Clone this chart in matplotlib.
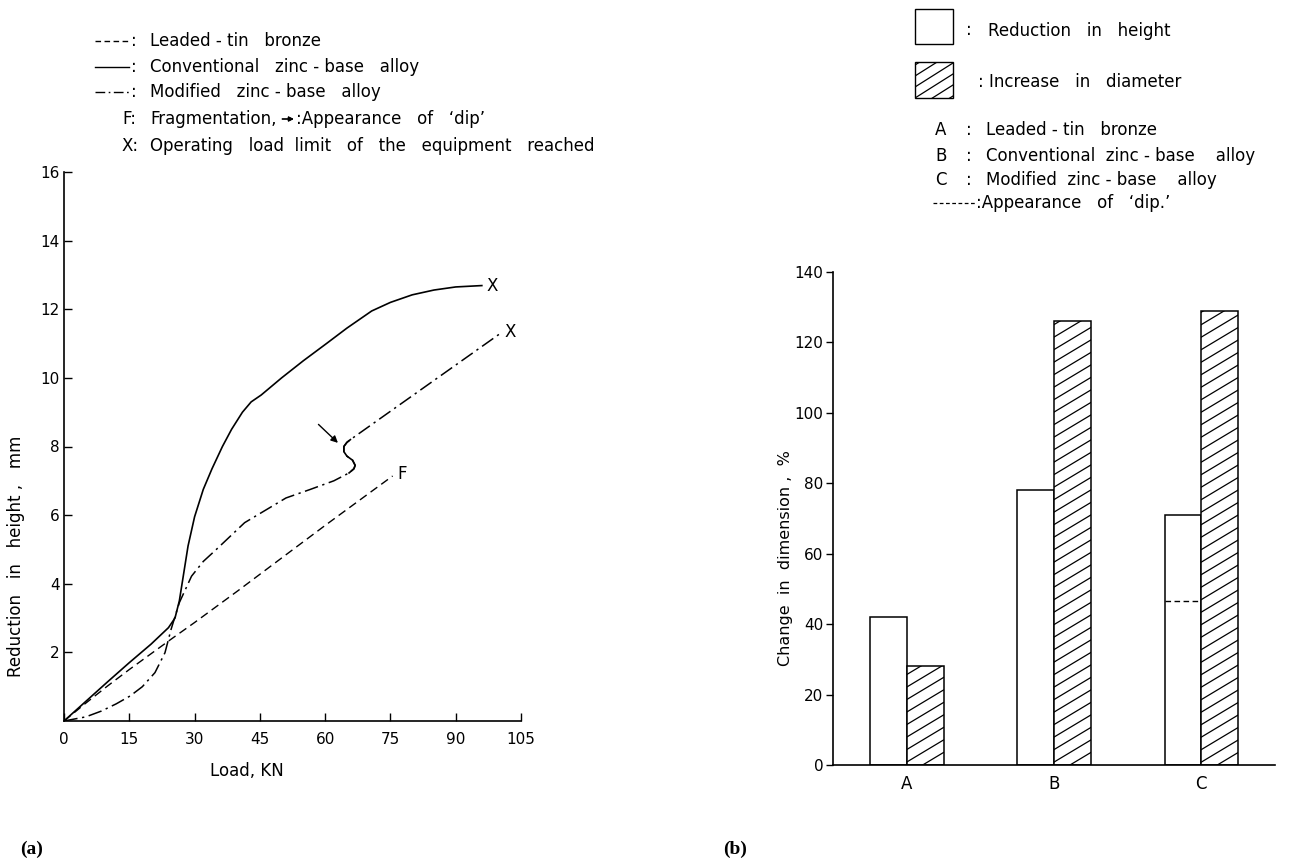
import numpy as np
import matplotlib.pyplot as plt
from matplotlib.patches import Rectangle
from matplotlib.lines import Line2D

plt.rcParams['font.family'] = ['DejaVu Sans']
plt.rcParams['font.size'] = 11

# (a) reduction in height vs load
load_bronze = [0, 5, 10, 15, 20, 25, 30, 40, 50, 60, 70, 75.5]
red_bronze = [0, 0.52, 1.02, 1.5, 1.96, 2.42, 2.87, 3.8, 4.75, 5.7, 6.63, 7.14]

load_conv = [0, 5, 10, 15, 20, 24, 25.5, 26.5, 27.5, 28.5, 30, 32, 34, 36.4, 38.5,
             41, 43, 45.3, 50, 55, 60.3, 65, 70.7, 75, 80, 85, 90, 96]
red_conv = [0, 0.57, 1.14, 1.7, 2.24, 2.72, 3.0, 3.5, 4.3, 5.1, 5.95, 6.75, 7.35, 8.0, 8.5,
            9.0, 9.3, 9.5, 10.0, 10.5, 11.0, 11.45, 11.95, 12.2, 12.42, 12.56, 12.65, 12.69]

load_mod = [0, 5, 8.6, 12, 15.2, 18, 20.9, 23.2, 24.6, 26.5, 29.3, 32, 35, 41.5, 51, 56.6,
            62, 65.5, 66.6, 66.9, 66.3, 65.0, 64.3, 64.3, 65.0, 65.8, 100.3]
red_mod = [0, 0.12, 0.29, 0.5, 0.73, 1.0, 1.41, 1.99, 2.67, 3.45, 4.22, 4.65, 5.0, 5.78, 6.5, 6.75,
           7.0, 7.23, 7.35, 7.45, 7.6, 7.72, 7.85, 8.0, 8.12, 8.2, 11.3]
dip_start, dip_end = 17, 26   # index range of the 'dip' in the modified alloy curve

# (b) change in dimension
alloys = ['A', 'B', 'C']
reduction_pct = [42, 78, 71]
increase_pct = [28, 126, 129]
dip_pct = [np.nan, np.nan, 46.5]

W, H = 1293, 861
fig = plt.figure(figsize=(W / 100, H / 100), dpi=100)
renderer = fig.canvas.get_renderer()


def fx(px):
    return px / W


def fy(py):
    return 1 - py / H


LEG = 12

# ---------- panel (a) ----------
ax1 = fig.add_axes([fx(64), fy(721), (521 - 64) / W, (721 - 172) / H])
ax1.set_xlim(0, 105)
ax1.set_ylim(0, 16)
ax1.plot(load_bronze, red_bronze, color='k', lw=1.0, dashes=(6, 3.5))
ax1.plot(load_conv, red_conv, color='k', lw=1.2)
ax1.plot(load_mod, red_mod, color='k', lw=1.1, dashes=(9, 3, 1.5, 3))
ax1.plot(load_mod[dip_start:dip_end], red_mod[dip_start:dip_end], color='k', lw=1.2)

ax1.text(load_conv[-1] + 1, red_conv[-1], 'X', ha='left', va='center', fontsize=12)
ax1.text(load_mod[-1] + 1, red_mod[-1] + 0.05, 'X', ha='left', va='center', fontsize=12)
ax1.text(load_bronze[-1] + 1, red_bronze[-1] + 0.05, 'F', ha='left', va='center', fontsize=12)
ax1.annotate('', xy=(63.4, 8.05), xytext=(58, 8.7),
             arrowprops=dict(arrowstyle='-|>', color='k', lw=1.0, mutation_scale=10))

ax1.set_xticks(np.arange(0, 106, 15))
ax1.set_yticks(np.arange(2, 17, 2))
ax1.tick_params(axis='x', direction='in', length=6, width=1, pad=8)
ax1.tick_params(axis='y', direction='in', length=6, width=1, pad=3)
for s in ['top', 'right']:
    ax1.spines[s].set_visible(False)
for s in ['left', 'bottom']:
    ax1.spines[s].set_linewidth(1.2)
ax1.set_xlabel('Load, KN', fontsize=12)
ax1.xaxis.set_label_coords(0.4, -0.075)
ax1.set_ylabel('Reduction   in   height ,   mm', fontsize=12)
ax1.yaxis.set_label_coords(-0.085, 0.3)

# legend of (a)
rows = [41, 67, 92, 119, 146]
styles = [dict(dashes=(4, 2.5)), dict(), dict(dashes=(7, 2.5, 1.2, 2.5))]
names = ['Leaded - tin   bronze', 'Conventional   zinc - base   alloy',
         'Modified   zinc - base   alloy']
for r, st, nm in zip(rows[:3], styles, names):
    fig.add_artist(Line2D([fx(95), fx(129)], [fy(r), fy(r)], color='k', lw=1.0,
                          transform=fig.transFigure, **st))
    fig.text(fx(131), fy(r), ':', ha='left', va='center', fontsize=LEG)
    fig.text(fx(150), fy(r), nm, ha='left', va='center', fontsize=LEG)
fig.text(fx(122), fy(rows[3]), 'F:', ha='left', va='center', fontsize=LEG)
t_frag = fig.text(fx(150), fy(rows[3]), 'Fragmentation,', ha='left', va='center',
                  fontsize=LEG)
bb = t_frag.get_window_extent(renderer)
fig.add_artist(plt.annotate('', xy=((bb.x1 + 20) / W, fy(rows[3])),
                            xytext=((bb.x1 + 3) / W, fy(rows[3])),
                            xycoords='figure fraction',
                            arrowprops=dict(arrowstyle='-|>', color='k', lw=0.9,
                                            mutation_scale=7)))
fig.text((bb.x1 + 20) / W, fy(rows[3]), ':Appearance   of   \u2018dip\u2019',
         ha='left', va='center', fontsize=LEG)
fig.text(fx(122), fy(rows[4]), 'X:', ha='left', va='center', fontsize=LEG)
fig.text(fx(150), fy(rows[4]), 'Operating   load  limit   of   the   equipment   reached',
         ha='left', va='center', fontsize=LEG)

# ---------- panel (b) ----------
ax2 = fig.add_axes([fx(833), fy(765), (1275 - 833) / W, (765 - 272) / H])
ax2.set_xlim(-0.5, 2.5)
ax2.set_ylim(0, 140)
x = np.arange(len(alloys))
bw = 0.25
ax2.bar(x - bw / 2, reduction_pct, width=bw, facecolor='white', edgecolor='k', lw=1.1)
hb = ax2.bar(x + bw / 2, increase_pct, width=bw, facecolor='white', edgecolor='k', lw=1.1)


def add_hatch(ax, patch, spacing_px=12.5, slope=0.6):
    x0, y0 = patch.get_x(), patch.get_y()
    w, h = patch.get_width(), patch.get_height()
    p0 = ax.transData.transform((0, 0))
    p1 = ax.transData.transform((1, 1))
    sx, sy = p1[0] - p0[0], p1[1] - p0[1]
    rise = slope * w * sx / sy
    step = spacing_px / sy
    for yy in np.arange(y0 - rise, y0 + h + step, step):
        ln, = ax.plot([x0, x0 + w], [yy, yy + rise], color='k', lw=0.9)
        ln.set_clip_path(patch)


for p in hb:
    add_hatch(ax2, p)

for xi, d in zip(x, dip_pct):
    if not np.isnan(d):
        ax2.plot([xi - bw, xi], [d, d], color='k', lw=1.0, dashes=(4, 2.5))

ax2.set_xticks(x)
ax2.set_xticklabels(alloys, fontsize=12)
ax2.set_yticks(np.arange(0, 141, 20))
ax2.tick_params(axis='x', length=0, pad=7)
ax2.tick_params(axis='y', direction='out', length=5, width=1, pad=2)
for s in ['top', 'right']:
    ax2.spines[s].set_visible(False)
for s in ['left', 'bottom']:
    ax2.spines[s].set_linewidth(1.2)
ax2.set_ylabel('Change  in  dimension ,  %', fontsize=11.5)
ax2.yaxis.set_label_coords(-0.09, 0.42)

# legend of (b)
box1 = Rectangle((fx(915), fy(44)), fx(953) - fx(915), fy(9) - fy(44),
                 transform=fig.transFigure, facecolor='white', edgecolor='k', lw=1.0)
fig.add_artist(box1)
box2 = Rectangle((fx(915), fy(98)), fx(953) - fx(915), fy(62) - fy(98),
                 transform=fig.transFigure, facecolor='white', edgecolor='k', lw=1.0)
fig.add_artist(box2)
for k in range(-3, 5):
    yb = 98 - k * 11
    ln = Line2D([fx(915), fx(953)], [fy(yb), fy(yb - 24)], color='k', lw=0.9,
                transform=fig.transFigure)
    ln.set_clip_path(box2)
    fig.add_artist(ln)
fig.text(fx(966), fy(30), ':', ha='left', va='center', fontsize=LEG)
fig.text(fx(988), fy(31), 'Reduction   in   height', ha='left', va='center', fontsize=LEG)
fig.text(fx(978), fy(82), ': Increase   in   diameter', ha='left', va='center', fontsize=LEG)
for lab, nm, r in zip(alloys,
                      ['Leaded - tin   bronze', 'Conventional  zinc - base    alloy',
                       'Modified  zinc - base    alloy'],
                      [130, 156, 180]):
    fig.text(fx(935), fy(r), lab, ha='left', va='center', fontsize=LEG)
    fig.text(fx(966), fy(r), ':', ha='left', va='center', fontsize=LEG)
    fig.text(fx(986), fy(r), nm, ha='left', va='center', fontsize=LEG)
fig.add_artist(Line2D([fx(933), fx(976)], [fy(203), fy(203)], color='k', lw=0.9,
                      dashes=(3, 2), transform=fig.transFigure))
fig.text(fx(976), fy(203), ':Appearance   of   \u2018dip.\u2019', ha='left', va='center',
         fontsize=LEG)

fig.text(fx(20), fy(849), '(a)', family='Liberation Serif', weight='bold', fontsize=14,
         ha='left', va='center')
fig.text(fx(723), fy(849), '(b)', family='Liberation Serif', weight='bold', fontsize=14,
         ha='left', va='center')

fig.savefig('out.png', dpi=100)
